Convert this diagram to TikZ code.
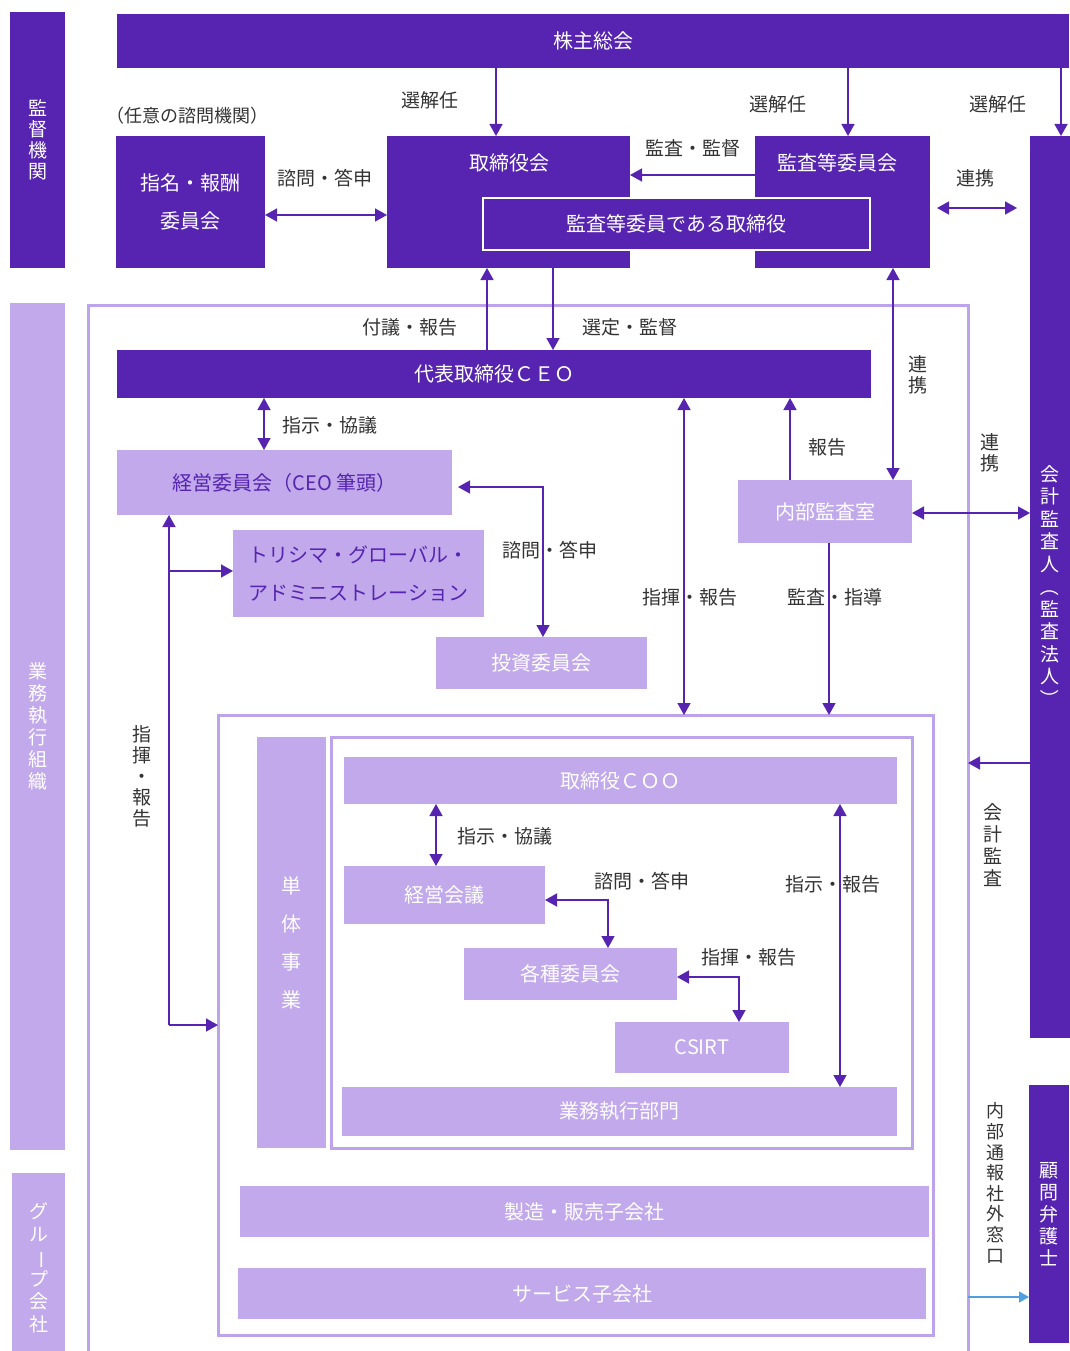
\documentclass[tikz,border=0pt]{standalone}
\usepackage{fontspec}
\setmainfont{Noto Sans CJK JP}
\usetikzlibrary{arrows.meta,calc}
\definecolor{dk}{RGB}{86,36,176}
\definecolor{lt}{RGB}{193,169,235}
\definecolor{fr}{RGB}{188,163,236}
\definecolor{tx}{RGB}{51,51,51}
\definecolor{bl}{RGB}{80,160,225}
\tikzset{
  box/.style={draw=none, inner sep=0pt, outer sep=0pt, align=center, font=\fontsize{20}{24}\selectfont},
  dkbox/.style={box, fill=dk, text=white},
  ltbox/.style={box, fill=lt, text=white},
  frm/.style={draw=fr, line width=3pt, fill=none, inner sep=0pt, outer sep=0pt},
  con/.style={draw=dk, line width=1.5pt},
  arr/.style={con, -{Triangle[width=13pt,length=12pt]}},
  dbl/.style={con, {Triangle[width=13pt,length=12pt]}-{Triangle[width=13pt,length=12pt]}},
  lbl/.style={text=tx, inner sep=0pt, font=\fontsize{19}{23}\selectfont},
  vlbl/.style={text=tx, inner sep=0pt, align=center, font=\fontsize{19}{21}\selectfont},
  wtxt/.style={text=white, inner sep=0pt, align=center, font=\fontsize{20}{24}\selectfont}
}
\newcommand{\vbar}{\rotatebox[origin=c]{-90}{ー}}
\newcommand{\vlp}{\rotatebox[origin=c]{-90}{（}}
\newcommand{\vrp}{\rotatebox[origin=c]{-90}{）}}
\begin{document}
\begin{tikzpicture}[x=1pt,y=-1pt]
\useasboundingbox (0,0) rectangle (1069,1351);
% helper x/y coordinates
\foreach \n/\v in {c496/496,c848/848,c1061/1061,c487/487,c553/553,c893/893,c264/264,c684/684,c790/790,c829/829,c436/436,c840/840,c169/169}
  {\coordinate (\n) at (\v,0);}
\coordinate (y175) at (0,175);
\coordinate (y208) at (0,208);
\coordinate (y215) at (0,215);
\coordinate (y513) at (0,513);
\coordinate (y571) at (0,571);
\coordinate (y763) at (0,763);
\coordinate (y1297) at (0,1297);
\coordinate (j1) at (543,487);
\coordinate (j2) at (608,900);
\coordinate (j3) at (739,977);
\coordinate (lj) at (169,1025);

% left side bars
\node[dkbox, minimum width=55, minimum height=256, font=\fontsize{19}{21}\selectfont] (kantoku) at (37.5,140) {監\\督\\機\\関};
\node[ltbox, minimum width=55, minimum height=847, font=\fontsize{19}{22}\selectfont] (gyomu) at (37.5,726.5) {業\\務\\執\\行\\組\\織};
\node[ltbox, minimum width=53, minimum height=190, font=\fontsize{19}{22.5}\selectfont] (group) at (38.5,1268) {グ\\ル\\\vbar\\プ\\会\\社};

% top
\node[dkbox, minimum width=952, minimum height=54] (kabunushi) at (593,41) {株主総会};
\node[lbl, font=\fontsize{18}{22}\selectfont] (nini) at (187,116) {（任意の諮問機関）};
\node[dkbox, minimum width=149, minimum height=132, font=\fontsize{20}{38}\selectfont] (shimei) at (190.5,202) {指名・報酬\\委員会};
\node[dkbox, minimum width=243, minimum height=132] (torishimari) at (508.5,202) {};
\node[wtxt] (torishimaritxt) at (509,163) {取締役会};
\node[dkbox, minimum width=175, minimum height=132] (kansaiin) at (842.5,202) {};
\node[wtxt] (kansaiintxt) at (837,163) {監査等委員会};
\node[dkbox, draw=white, line width=2.5pt, minimum width=387, minimum height=52] (kansatori) at (676.5,224) {監査等委員である取締役};
\node[dkbox, minimum width=40, minimum height=902, font=\fontsize{19}{22.5}\selectfont] (kaikei) at (1050,587) {会\\計\\監\\査\\人\\\vlp\\監\\査\\法\\人\\\vrp};
\node[dkbox, minimum width=40, minimum height=258, font=\fontsize{19}{22}\selectfont] (komon) at (1049,1214) {顧\\問\\弁\\護\\士};

% frames
\node[frm, minimum width=880, minimum height=1055] (outer) at (528,832.5) {};
\node[frm, minimum width=715, minimum height=620] (frame2) at (575.5,1025) {};
\node[frm, minimum width=581, minimum height=411] (frame3) at (621.5,942.5) {};

% executive
\node[dkbox, minimum width=754, minimum height=48] (ceo) at (494,374) {代表取締役ＣＥＯ};
\node[ltbox, minimum width=335, minimum height=65, text=dk] (keiei) at (284.5,482.5) {経営委員会（CEO 筆頭）};
\node[ltbox, minimum width=251, minimum height=87, text=dk, font=\fontsize{20}{38}\selectfont] (torishima) at (358.5,573.5) {トリシマ・グローバル・\\アドミニストレーション};
\node[ltbox, minimum width=211, minimum height=52] (toshi) at (541.5,663) {投資委員会};
\node[ltbox, minimum width=174, minimum height=63] (naibu) at (825,511.5) {内部監査室};

\node[ltbox, minimum width=69, minimum height=411, font=\fontsize{20}{38}\selectfont] (tantai) at (291.5,942.5) {単\\体\\事\\業};
\node[ltbox, minimum width=553, minimum height=47] (coo) at (620.5,780.5) {取締役ＣＯＯ};
\node[ltbox, minimum width=201, minimum height=58] (keieikaigi) at (444.5,895) {経営会議};
\node[ltbox, minimum width=213, minimum height=52] (kakushu) at (570.5,974) {各種委員会};
\node[ltbox, minimum width=174, minimum height=51] (csirt) at (702,1047.5) {CSIRT};
\node[ltbox, minimum width=555, minimum height=49] (gyomubumon) at (619.5,1111.5) {業務執行部門};
\node[ltbox, minimum width=689, minimum height=51] (seizo) at (584.5,1211.5) {製造・販売子会社};
\node[ltbox, minimum width=688, minimum height=51] (service) at (582,1293.5) {サービス子会社};

% connectors top
\draw[arr] (kabunushi.south -| c496) -- (torishimari.north -| c496);
\draw[arr] (kabunushi.south -| c848) -- (kansaiin.north -| c848);
\draw[arr] (kabunushi.south -| c1061) -- (kaikei.north -| c1061);
\draw[dbl] (shimei.east |- y215) -- (torishimari.west |- y215);
\draw[arr] (kansaiin.west |- y175) -- (torishimari.east |- y175);
\draw[dbl, shorten <=7pt, shorten >=13pt] (kansaiin.east |- y208) -- (kaikei.west |- y208);
\draw[arr] (ceo.north -| c487) -- (torishimari.south -| c487);
\draw[arr] (torishimari.south -| c553) -- (ceo.north -| c553);
\draw[dbl] (kansaiin.south -| c893) -- (naibu.north -| c893);

% executive connectors
\draw[dbl] (ceo.south -| c264) -- (keiei.north -| c264);
\draw[dbl, shorten <=6pt] (keiei.east |- j1) -| (toshi.north -| j1);
\draw[dbl] (ceo.south -| c684) -- (frame2.north -| c684);
\draw[arr] (naibu.north -| c790) -- (ceo.south -| c790);
\draw[arr] (naibu.south -| c829) -- (frame2.north -| c829);
\draw[dbl] (naibu.east |- y513) -- (kaikei.west |- y513);
\draw[arr] (lj) -- (keiei.south -| lj);
\draw[arr] (lj |- y571) -- (torishima.west |- y571);
\draw[arr] (lj) -- (frame2.west |- lj);

% inner connectors
\draw[dbl] (coo.south -| c436) -- (keieikaigi.north -| c436);
\draw[dbl] (keieikaigi.east |- j2) -| (kakushu.north -| j2);
\draw[dbl] (kakushu.east |- j3) -| (csirt.north -| j3);
\draw[dbl] (coo.south -| c840) -- (gyomubumon.north -| c840);

% right side
\draw[arr] (kaikei.west |- y763) -- (outer.east |- y763);
\draw[draw=bl, line width=1.2pt, -{Triangle[width=11pt,length=10pt]}] (outer.east |- y1297) -- (komon.west |- y1297);

% labels
\node[lbl] (l1) at (430,100) {選解任};
\node[lbl] (l2) at (778,104) {選解任};
\node[lbl] (l3) at (998,104) {選解任};
\node[lbl] (l4) at (325,178) {諮問・答申};
\node[lbl] (l5) at (693,148) {監査・監督};
\node[lbl] (l6) at (975,178) {連携};
\node[lbl] (l7) at (410,327) {付議・報告};
\node[lbl] (l8) at (630,327) {選定・監督};
\node[vlbl] (l9) at (918,375) {連\\携};
\node[lbl] (l10) at (330,425) {指示・協議};
\node[lbl] (l11) at (827,447) {報告};
\node[vlbl] (l12) at (990,453) {連\\携};
\node[lbl] (l13) at (550,550) {諮問・答申};
\node[lbl] (l14) at (690,597) {指揮・報告};
\node[lbl] (l15) at (835,597) {監査・指導};
\node[vlbl] (l16) at (142,776) {指\\揮\\・\\報\\告};
\node[lbl] (l17) at (505,836) {指示・協議};
\node[lbl] (l18) at (642,881) {諮問・答申};
\node[lbl] (l19) at (833,884) {指示・報告};
\node[lbl] (l20) at (749,957) {指揮・報告};
\node[vlbl, font=\fontsize{19}{22}\selectfont] (l21) at (993,845) {会\\計\\監\\査};
\node[vlbl, font=\fontsize{18}{20.6}\selectfont] (l22) at (995,1183) {内\\部\\通\\報\\社\\外\\窓\\口};
\end{tikzpicture}
\end{document}
